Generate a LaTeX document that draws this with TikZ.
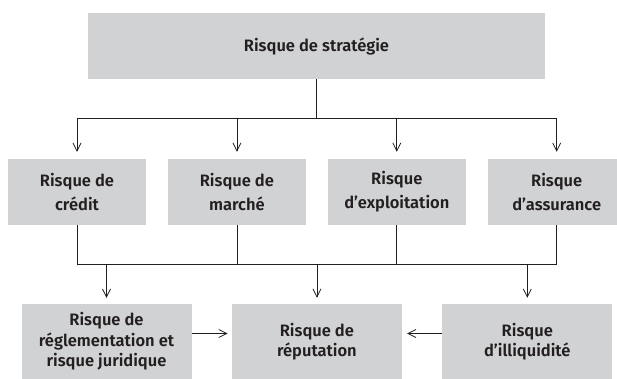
\documentclass[tikz,border=0pt]{standalone}
\usepackage{fontspec}
\setmainfont{Fira Sans}[BoldFont={Fira Sans SemiBold}]
\usetikzlibrary{positioning}
\usetikzlibrary{arrows.meta}

\definecolor{boxgray}{HTML}{D1D2D4}
\definecolor{inkgray}{HTML}{231F20}

\begin{document}
\begin{tikzpicture}[
    x=1pt, y=-1pt,
    rbox/.style={fill=boxgray, text=inkgray, font=\fontsize{16.5}{24}\selectfont\bfseries,
        align=center, inner sep=0, minimum width=138pt, minimum height=66pt},
    lbox/.style={rbox, font=\fontsize{16.5}{20.5}\selectfont\bfseries,
        minimum width=170pt, minimum height=75pt},
    link/.style={draw=inkgray, line width=0.8pt},
    dedge/.style={link, -{Straight Barb[length=8pt,width=8pt]}}
]
\useasboundingbox (0,0) rectangle (617,379);

% Strategy
\node[rbox, minimum width=457pt] (strat) at (316.5,46) {Risque de stratégie};

% Main risks
\node[rbox] (credit) at (77,192) {Risque de\\crédit};
\node[rbox, right=21.5pt of credit] (marche) {Risque de\\marché};
\node[rbox, right=21.5pt of marche] (exploit) {Risque\\d’exploitation};
\node[rbox, right=21.5pt of exploit] (assur) {Risque\\d’assurance};

% Consequent risks
\node[lbox] (regl) at (106.5,341.5) {Risque de\\réglementation et\\risque juridique};
\node[lbox, right=40pt of regl] (reput) {Risque de\\réputation};
\node[lbox, right=40pt of reput] (illiq) {Risque\\d’illiquidité};

% Upper bus
\coordinate[below=39.5pt of strat.south] (topbus);
\draw[link] (strat.south) -- (topbus);
\draw[link] (credit.north |- topbus) -- (assur.north |- topbus);
\foreach \n in {credit,marche,exploit,assur}
    \draw[dedge, shorten >=7pt] (\n.north |- topbus) -- (\n.north);

% Lower bus
\coordinate[below=39pt of marche.south] (lowbus);
\draw[link] (credit.south) -- (credit.south |- lowbus) -- (assur.south |- lowbus) -- (assur.south);
\draw[link] (marche.south) -- (marche.south |- lowbus);
\draw[link] (exploit.south) -- (exploit.south |- lowbus);
\foreach \n in {regl,reput,illiq}
    \draw[dedge, shorten >=6pt] (\n.north |- lowbus) -- (\n.north);

% Side links
\draw[dedge, shorten >=4pt] ([yshift=8pt]regl.east) -- ([yshift=8pt]reput.west);
\draw[dedge, shorten >=5pt] ([yshift=8pt]illiq.west) -- ([yshift=8pt]reput.east);

\end{tikzpicture}
\end{document}
